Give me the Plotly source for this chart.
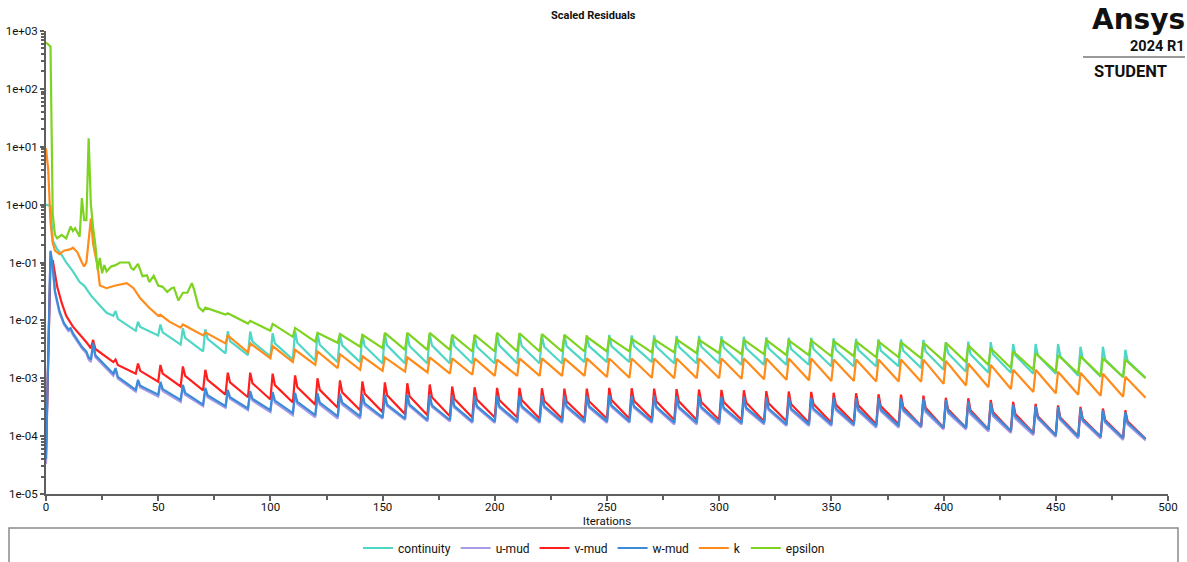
import plotly.graph_objects as go

# ---------------- data ----------------
# Each series: an irregular start (head), then a saw-tooth part where every
# cycle has a spike (peak) at iteration 10k+1, an optional knee at 10k+2 and a
# trough at 10k+10.

# continuity
cont_head_x = [0, 2, 3, 5, 7, 9, 12, 15, 17, 20, 23, 27, 30]
cont_head_y = [1.0, 0.95, 0.24, 0.17, 0.135, 0.1, 0.07, 0.046, 0.04, 0.027, 0.02, 0.0135, 0.012]
cont_first_peak = 31
cont_peaks = [.0145, .0095, .0085, .0073, .007, .0065, .0064, .006, .0065, .006,
              .0058, .0057, .0058, .0057, .0058, .0056, .0055, .0058, .0056, .0055,
              .0056, .0055, .0056, .0055, .0055, .0054, .0054, .0053, .0052, .0051,
              .005, .005, .0049, .0048, .0047, .0047, .0046, .0042, .0043, .0042,
              .0039, .0039, .0039, .0035, .0035, .0031]
cont_knees = [.0106, .0077, .0062, .005, .0048, .0044, .0043, .004, .0041, .0038,
              .0037, .0036, .0037, .0036, .0037, .0036, .0035, .0037, .0036, .0035,
              .0036, .0036, .0036, .0036, .0035, .0035, .0035, .0034, .0033, .0033,
              .0032, .0032, .0031, .0031, .003, .003, .0029, .0027, .0026, .0026,
              .0025, .0025, .0024, .0022, .0021, .002]
cont_troughs = [.0066, .0055, .0038, .0029, .0027, .0025, .0024, .0021, .002, .0019,
                .0019, .0018, .0018, .0018, .0018, .0018, .0018, .0018, .0018, .0018,
                .0019, .0019, .0019, .0019, .0018, .0018, .0018, .0017, .0017, .0017,
                .0017, .0016, .0016, .0016, .0016, .0015, .0014, .0013, .00125, .00124,
                .0012, .0012, .0011, .00106, .00104, .00102]

# u-mud
u_head_x = [0, 2, 3, 4, 6, 8, 10, 11, 12, 14, 16, 18, 19, 20]
u_head_y = [3.3e-5, 0.15, 0.08, 0.03, 0.0135, 0.0085, 0.0065, 0.0068, 0.0056, 0.0042,
            0.0033, 0.0027, 0.0021, 0.0019]
u_first_peak = 21
u_peaks = [.0038, .0014, .00087, .00081, .00072, .00063, .00059, .00056, .00054, .00052,
           .00051, .0005, .00049, .00048, .00048, .00047, .00047, .00047, .00047, .00047,
           .00047, .00047, .00047, .00047, .00047, .00047, .00046, .00046, .00045, .00045,
           .00044, .00044, .00043, .00043, .00042, .00042, .00042, .00041, .00039, .00037,
           .00035, .00033, .00031, .0003, .00028, .00026, .00024]
u_knees = [.0023, .00099, .00069, .0006, .00052, .00047, .00044, .00041, .00038, .00036,
           .00035, .00035, .00034, .00033, .00033, .00032, .00031, .00031, .00031, .00031,
           .00031, .00031, .00031, .00032, .00031, .0003, .0003, .0003, .00029, .00029,
           .00028, .00028, .00028, .00028, .00027, .00027, .00027, .00026, .00025, .00024,
           .00022, .0002, .0002, .00019, .00018, .00017, .00016]
u_troughs = [.0011, .00059, .00048, .00039, .00033, .00031, .00028, .00026, .00023, .00021,
             .0002, .0002, .0002, .00019, .00018, .00018, .00017, .00017, .00017, .00017,
             .00017, .00017, .00017, .00017, .00017, .00016, .00016, .00016, .00016, .00016,
             .00015, .00015, .00015, .00015, .00014, .00014, .00014, .00013, .00013, .00012,
             .000114, .000104, .000097, .000091, .000091, .000086, .000084]

# v-mud
v_head_x = [0, 2, 3, 4, 5, 7, 9, 12, 14, 16, 18, 20]
v_head_y = [5e-5, 0.1, 0.11, 0.06, 0.038, 0.02, 0.012, 0.0078, 0.0064, 0.0053, 0.0042, 0.0033]
v_first_peak = 21
v_peaks = [.0046, .0021, .0018, .0017, .0016, .0014, .00125, .00125, .0012, .00112,
           .001, .00092, .00088, .00085, .00082, .00078, .00072, .0007, .00068, .00068,
           .00067, .00066, .00066, .00068, .00067, .00066, .00065, .00064, .00063, .00062,
           .0006, .00059, .00058, .00056, .00055, .00053, .00052, .0005, .00046, .00045,
           .00042, .00039, .00036, .00034, .00032, .0003, .00028]
v_knees = [.0032, .0017, .00134, .0012, .0011, .00094, .00085, .00082, .00076, .0007,
           .00063, .00057, .00054, .00051, .00049, .00047, .00044, .00043, .00042, .00042,
           .00041, .0004, .0004, .00042, .00041, .0004, .0004, .00039, .00039, .00038,
           .00037, .00036, .00036, .00035, .00034, .00033, .00032, .00031, .00029, .00028,
           .00026, .00024, .00022, .00021, .0002, .00019, .00018]
v_troughs = [.0019, .0012, .00087, .00072, .00062, .00052, .00047, .00043, .00038, .00035,
             .00031, .00028, .00026, .00024, .00023, .00022, .00021, .00021, .00021, .0002,
             .0002, .0002, .0002, .0002, .0002, .00019, .00019, .00019, .00019, .00018,
             .00018, .00017, .00017, .00017, .00016, .00016, .00015, .00014, .00014, .00013,
             .000123, .000113, .000105, .0001, .000098, .000094, .00009]

# w-mud
w_head_x = [0, 2, 3, 4, 6, 8, 10, 11, 12, 14, 16, 18, 19, 20]
w_head_y = [4e-5, 0.16, 0.085, 0.032, 0.0145, 0.009, 0.007, 0.0073, 0.006, 0.0045,
            0.0035, 0.0029, 0.0023, 0.0021]
w_first_peak = 21
w_peaks = [.0041, .0015, .00094, .00087, .00077, .00068, .00063, .0006, .00058, .00056,
           .00055, .00054, .00053, .00052, .00052, .00051, .0005, .0005, .0005, .0005,
           .0005, .0005, .0005, .00051, .0005, .0005, .00049, .00049, .00048, .00048,
           .00047, .00047, .00046, .00046, .00045, .00045, .00045, .00044, .00042, .0004,
           .00038, .00035, .00033, .00032, .0003, .00028, .00026]
w_knees = [.0025, .00106, .00074, .00065, .00056, .00051, .00047, .00044, .00041, .00039,
           .00038, .00038, .00037, .00035, .00035, .00034, .00033, .00033, .00033, .00033,
           .00033, .00033, .00033, .00034, .00033, .00032, .00032, .00032, .00031, .00031,
           .0003, .0003, .0003, .0003, .00029, .00029, .00029, .00028, .00027, .00026,
           .00024, .00022, .00021, .0002, .00019, .00018, .00017]
w_troughs = [.0012, .00063, .00052, .00042, .00035, .00033, .0003, .00028, .00025, .00023,
             .00022, .00022, .00021, .0002, .00019, .00019, .00018, .00018, .00018, .00018,
             .00018, .00018, .00018, .00018, .00018, .00017, .00017, .00017, .00017, .00017,
             .00016, .00016, .00016, .00016, .00015, .00015, .00015, .00014, .00014, .00013,
             .000123, .000112, .000104, .000098, .000098, .000093, .00009]

# k
k_head_x = [0, 1, 2, 3, 4, 6, 8, 11, 12, 14, 16, 17, 18, 20, 21, 23, 24, 27, 31, 36,
            39, 42, 46, 50, 51, 55, 60]
k_head_y = [9.4, 4, 0.5, 0.22, 0.16, 0.14, 0.16, 0.17, 0.18, 0.15, 0.1, 0.085, 0.1, 0.58,
            0.21, 0.085, 0.04, 0.036, 0.04, 0.044, 0.036, 0.024, 0.0165, 0.012, 0.0125,
            0.0095, 0.0075]
k_first_peak = 61
k_peaks = [.0085, .0062, .0055, .004, .0036, .0031, .0029, .0026, .0024, .0023,
           .0023, .0023, .0022, .0022, .0021, .0022, .0022, .0022, .0022, .0022,
           .0022, .0022, .0022, .0022, .0022, .0022, .0022, .0022, .0022, .0021,
           .0021, .0021, .0021, .0021, .002, .0018, .0017, .0014, .0014, .0013,
           .00124, .0012, .00106]
k_troughs = [.0055, .004, .0028, .0022, .0019, .0017, .0015, .0014, .00134, .0013,
             .00126, .0012, .00115, .0011, .0011, .0011, .0011, .0011, .00105, .00102,
             .00102, .001, .001, .001, .00098, .00096, .00094, .00092, .0009, .0009,
             .00088, .00088, .00087, .0008, .00075, .0007, .00065, .00058, .00055, .00052,
             .0005, .00048, .00046]

# epsilon
eps_head_x = [0, 2, 3, 4, 5, 7, 9, 11, 12, 13, 15, 16, 17, 18, 19, 20, 21, 22, 23, 24,
              25, 26, 27, 29, 31, 33, 35, 37, 38, 39, 41, 43, 45, 46, 48, 50, 52, 54, 56, 57,
              59, 61, 63, 65, 66, 68, 70]
eps_head_y = [630, 540, 0.68, 0.3, 0.26, 0.3, 0.26, 0.42, 0.35, 0.39,
              0.28, 1.3, 0.54, 0.54, 14, 1.0, 0.4, 0.2, 0.075, 0.12,
              0.065, 0.09, 0.07, 0.085, 0.09, 0.1, 0.1, 0.1, 0.08, 0.075,
              0.095, 0.058, 0.06, 0.046, 0.059, 0.04, 0.038, 0.031, 0.036, 0.037,
              0.022, 0.03, 0.03, 0.044, 0.034, 0.017, 0.0144]
eps_first_peak = 71
eps_peaks = [.0166, .0133, .0098, .0087, .0074, .0061, .0058, .0056, .0061, .0061,
             .0061, .0056, .0056, .0061, .006, .0058, .0056, .0052, .005, .0048,
             .0047, .0047, .0046, .0046, .0046, .0046, .0045, .0045, .0044, .0043,
             .0043, .0042, .0041, .0041, .0037, .0033, .0029, .0027, .0025, .0024,
             .0022, .0021]
eps_troughs = [.0126, .0088, .0066, .0052, .0043, .0041, .0035, .0033, .0031, .0031,
               .0031, .0029, .0029, .0029, .0029, .0029, .0029, .0029, .0029, .0028,
               .0028, .0027, .0027, .0026, .0026, .0025, .0025, .0024, .0024, .0023,
               .0023, .0022, .002, .0019, .0017, .0015, .0014, .0013, .0012, .0011,
               .00105, .001]

series_names = ["continuity", "u-mud", "v-mud", "w-mud", "k", "epsilon"]
series_colors = ["#4fd6c4", "#a99be6", "#ff1f1f", "#3b8bd9", "#ff8c1a", "#7ed321"]

y_tick_vals = [1e3, 1e2, 1e1, 1e0, 1e-1, 1e-2, 1e-3, 1e-4, 1e-5]
y_tick_text = ["1e+03", "1e+02", "1e+01", "1e+00", "1e-01", "1e-02", "1e-03", "1e-04", "1e-05"]
x_tick_vals = [0, 50, 100, 150, 200, 250, 300, 350, 400, 450, 500]


def build(head_x, head_y, first_peak, peaks, troughs, knees=None):
    assert len(head_x) == len(head_y)
    assert len(peaks) == len(troughs)
    if knees is not None:
        assert len(knees) == len(peaks)
    xs, ys = list(head_x), list(head_y)
    for i, p in enumerate(peaks):
        s = first_peak + 10 * i
        xs.append(s)
        ys.append(p)
        if knees is not None:
            xs.append(s + 1)
            ys.append(knees[i])
        xs.append(s + 9)
        ys.append(troughs[i])
    return xs, ys


series = [
    build(cont_head_x, cont_head_y, cont_first_peak, cont_peaks, cont_troughs, cont_knees),
    build(u_head_x, u_head_y, u_first_peak, u_peaks, u_troughs, u_knees),
    build(v_head_x, v_head_y, v_first_peak, v_peaks, v_troughs, v_knees),
    build(w_head_x, w_head_y, w_first_peak, w_peaks, w_troughs, w_knees),
    build(k_head_x, k_head_y, k_first_peak, k_peaks, k_troughs),
    build(eps_head_x, eps_head_y, eps_first_peak, eps_peaks, eps_troughs),
]

FONT = "Roboto, 'Open Sans', Arial, sans-serif"
AXIS_COLOR = "#5f5f5f"
W, H = 1187, 562
L, R, T, B = 46, 19, 31, 68
PW, PH = W - L - R, H - T - B


def px(x):
    return (x - L) / PW


def py(y):
    return (H - B - y) / PH


fig = go.Figure()
for (xs, ys), name, color in zip(series, series_names, series_colors):
    fig.add_trace(go.Scatter(x=xs, y=ys, mode="lines", name=name,
                             line=dict(color=color, width=2.2)))

minor_y = [m * 10 ** e for e in range(-5, 3) for m in range(2, 10)]

fig.update_layout(
    width=W, height=H,
    margin=dict(l=L, r=R, t=T, b=B, autoexpand=False),
    paper_bgcolor="white", plot_bgcolor="white",
    font=dict(family=FONT, size=12, color="#111"),
    showlegend=True,
    legend=dict(orientation="h", x=px(594), xanchor="center", y=py(548), yanchor="middle",
                font=dict(size=12), itemwidth=30, bgcolor="rgba(0,0,0,0)"),
    xaxis=dict(range=[0, 500], tickmode="array", tickvals=x_tick_vals, automargin=False,
               showline=True, linecolor=AXIS_COLOR, linewidth=2, mirror=False,
               ticks="outside", ticklen=5, tickcolor=AXIS_COLOR, tickwidth=1.5,
               minor=dict(dtick=25, ticks="outside", ticklen=4, tickcolor=AXIS_COLOR),
               showgrid=False, zeroline=False, tickfont=dict(size=11.5),
               ticklabelstandoff=-4,
               title=dict(text="Iterations", standoff=2, font=dict(size=11.5))),
    yaxis=dict(type="log", range=[-5, 3], tickmode="array", tickvals=y_tick_vals,
               ticktext=y_tick_text, automargin=False,
               showline=True, linecolor=AXIS_COLOR, linewidth=2,
               ticks="outside", ticklen=4, tickcolor=AXIS_COLOR, tickwidth=1.5,
               minor=dict(tickmode="array", tickvals=minor_y, ticks="outside",
                          ticklen=3, tickcolor=AXIS_COLOR),
               showgrid=False, zeroline=False, tickfont=dict(size=11.5)),
)

# title
fig.add_annotation(text="<b>Scaled Residuals</b>", xref="paper", yref="paper",
                   x=px(593), y=py(16), xanchor="center", yanchor="middle", showarrow=False,
                   font=dict(size=11, color="#111"))

# legend frame
fig.add_shape(type="rect", xref="paper", yref="paper",
              x0=px(9), x1=px(1178), y0=py(528), y1=py(600),
              line=dict(color="#8a8a8a", width=1.5), fillcolor="rgba(0,0,0,0)")

# Ansys logo block
LOGO_FONT = "Roboto, Arial, sans-serif"
fig.add_annotation(text="<b>Ansys</b>", xref="paper", yref="paper", x=px(1186), y=py(19),
                   xanchor="right", yanchor="middle", showarrow=False, borderpad=0,
                   font=dict(size=28, color="#111", family="'DejaVu Sans', sans-serif"))
fig.add_annotation(text="<b>2024 R1</b>", xref="paper", yref="paper", x=px(1186), y=py(47),
                   xanchor="right", yanchor="middle", showarrow=False, borderpad=0,
                   font=dict(size=14.5, color="#111", family=LOGO_FONT))
fig.add_shape(type="line", xref="paper", yref="paper", x0=px(1083), x1=px(1185),
              y0=py(57), y1=py(57), line=dict(color="#777", width=1.5))
fig.add_annotation(text="<b>STUDENT</b>", xref="paper", yref="paper", x=px(1130), y=py(72),
                   xanchor="center", yanchor="middle", showarrow=False, borderpad=0,
                   font=dict(size=16.5, color="#111", family=LOGO_FONT))

fig.write_html(
    "out.html",
    config={"displayModeBar": False},
    post_script="document.body.style.margin='0';document.body.style.padding='0';"
                "document.body.style.overflow='hidden';",
)
